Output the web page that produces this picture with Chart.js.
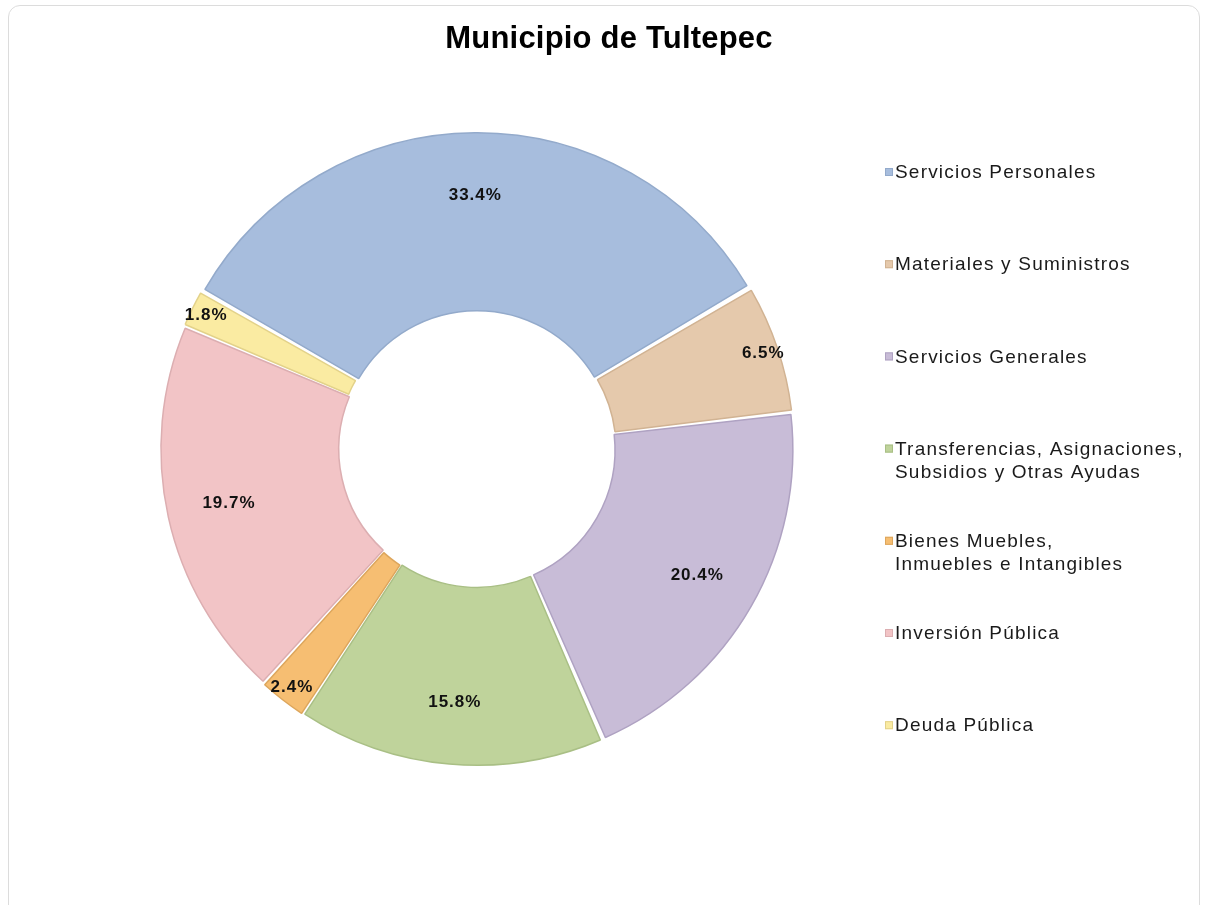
<!DOCTYPE html>
<html lang="es">
<head>
<meta charset="utf-8">
<title>Municipio de Tultepec</title>
<script src="https://cdn.jsdelivr.net/npm/chart.js@4.4.1/dist/chart.umd.min.js"></script>
<style>
    html, body { margin: 0; padding: 0; background: #fff; }
    #wrap { position: relative; width: 1206px; height: 905px; overflow: hidden; }
    #frame {
        position: absolute; left: 8px; top: 5px; width: 1190px; height: 930px;
        border: 1px solid #dcdcdc; border-radius: 12px; pointer-events: none;
    }
</style>
</head>
<body>
<div id="wrap">
    <canvas id="tultepecChart"></canvas>
    <div id="frame"></div>
</div>
<script>
// Chart data
const chartTitle = 'Municipio de Tultepec';
const categories = [
    'Servicios Personales',
    'Materiales y Suministros',
    'Servicios Generales',
    ['Transferencias, Asignaciones,', 'Subsidios y Otras Ayudas'],
    ['Bienes Muebles,', 'Inmuebles e Intangibles'],
    'Inversión Pública',
    'Deuda Pública'
];
const shares = [33.4, 6.5, 20.4, 15.8, 2.4, 19.7, 1.8];

const sliceColors = ['#A7BDDD', '#E5C9AC', '#C8BCD7', '#BFD39B', '#F6BE72', '#F2C4C6', '#FAEBA2'];
const sliceBorders = ['#93AACB', '#D1B393', '#AFA2C2', '#A9BF85', '#DDA65C', '#DCAEB1', '#E3D28A'];

// Plugin: title, legend on the right and percentage labels
const decorPlugin = {
    id: 'decor',
    afterDraw(chart) {
        const ctx = chart.ctx;
        const meta = chart.getDatasetMeta(0);
        const values = chart.data.datasets[0].data;
        const offset = chart.data.datasets[0].offset;

        ctx.save();

        // title
        ctx.fillStyle = '#000';
        ctx.font = 'bold 31px "Liberation Sans", Arial, sans-serif';
        ctx.textAlign = 'center';
        ctx.textBaseline = 'alphabetic';
        ctx.letterSpacing = '0.2px';
        ctx.fillText(chartTitle, 609, 48);

        // percentage labels
        ctx.font = 'bold 17px "Liberation Sans", Arial, sans-serif';
        ctx.letterSpacing = '1px';
        ctx.textBaseline = 'middle';
        ctx.fillStyle = '#111';
        meta.data.forEach((arc, i) => {
            const p = arc.getProps(['x', 'y', 'startAngle', 'endAngle', 'innerRadius', 'outerRadius'], true);
            const mid = (p.startAngle + p.endAngle) / 2;
            let r;
            if (values[i] < 10) {
                r = p.outerRadius + offset - 16;
            } else {
                r = p.innerRadius + 0.64 * (p.outerRadius - p.innerRadius) + offset;
            }
            ctx.fillText(values[i].toFixed(1) + '%', p.x + Math.cos(mid) * r, p.y + Math.sin(mid) * r);
        });

        // legend
        ctx.font = '19px "Liberation Sans", Arial, sans-serif';
        ctx.letterSpacing = '1.2px';
        ctx.textAlign = 'left';
        chart.data.labels.forEach((label, i) => {
            const y = 172 + i * 92.2;
            ctx.fillStyle = sliceColors[i];
            ctx.fillRect(885, y - 4, 8, 8);
            ctx.strokeStyle = sliceBorders[i];
            ctx.lineWidth = 1;
            ctx.strokeRect(885.5, y - 3.5, 7, 7);
            ctx.fillStyle = '#1a1a1a';
            const lines = Array.isArray(label) ? label : [label];
            lines.forEach((line, j) => {
                ctx.fillText(line, 895, y + 1 + j * 23);
            });
        });

        ctx.restore();
    }
};

const ctx = document.getElementById('tultepecChart').getContext('2d');
new Chart(ctx, {
    type: 'doughnut',
    data: {
        labels: categories,
        datasets: [{
            data: shares,
            backgroundColor: sliceColors,
            borderColor: sliceBorders,
            borderWidth: 1.5,
            offset: 6,
            hoverOffset: 6
        }]
    },
    options: {
        responsive: true,
        maintainAspectRatio: false,
        animation: false,
        rotation: -60.5,
        cutout: '43%',
        radius: 312,
        spacing: 5,
        layout: {
            padding: { left: 147, right: 399, top: 119, bottom: 126 }
        },
        plugins: {
            legend: { display: false },
            title: { display: false },
            tooltip: { enabled: false }
        }
    },
    plugins: [decorPlugin]
});
</script>
</body>
</html>
